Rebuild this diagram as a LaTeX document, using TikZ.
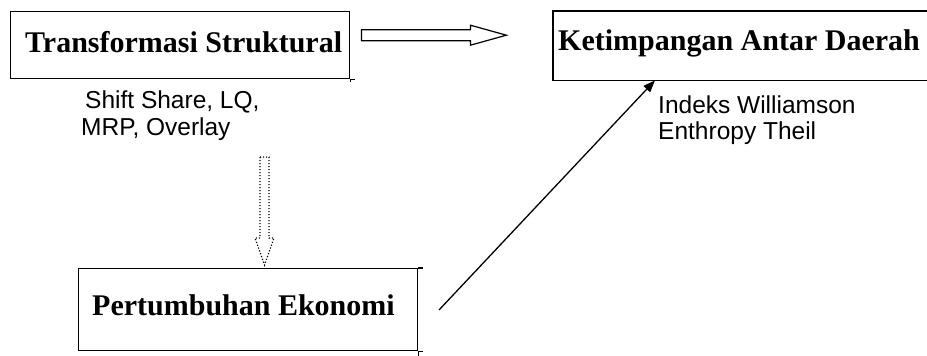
\documentclass[tikz,border=0pt]{standalone}
\usepackage{fontspec}
\setmainfont{Liberation Serif}
\newfontfamily\labelfont{Liberation Sans}
\usetikzlibrary{arrows.meta,calc}
\begin{document}
\begin{tikzpicture}[x=1pt,y=-1pt,
  frame/.style={line width=1.4pt},
  boxnode/.style={frame, draw, inner sep=0pt, anchor=north west},
  title/.style={font=\fontsize{30}{36}\selectfont\bfseries, inner sep=0pt, anchor=base west},
  note/.style={font=\labelfont\fontsize{24.5}{28}\selectfont, inner sep=0pt, anchor=base west},
  hollow/.style={line width=1.2pt, line join=miter},
  dotarrow/.style={line width=1.2pt, dash pattern=on 1.2pt off 1.8pt},
  link/.style={line width=1.3pt, -{Triangle[length=12pt,width=9pt]}}]
\useasboundingbox (0,0) rectangle (927,356);

% boxes
\node[boxnode, minimum width=339pt, minimum height=67pt] (ts) at (10,11) {};
\draw[frame] (ts.south east) -- ++(5,0);
\draw[frame] (ts.south east) -- ++(0,3);
\node[title] (tst) at (25,52) {Transformasi Struktural};

\node[boxnode, draw=none, minimum width=374pt, minimum height=68pt] (kd) at (553,11) {};
\draw[frame] (kd.north east) -- (kd.north west) -- (kd.south west) -- (kd.south east);
\node[title] (kdt) at (558,50) {Ketimpangan Antar Daerah};

\node[boxnode, minimum width=339pt, minimum height=82pt] (pe) at (78,268) {};
\draw[frame] (pe.north east) -- ++(5,0);
\draw[frame] (pe.south east) -- ++(5,0);
\draw[frame] (pe.south east) -- ++(0,6);
\node[title] (pet) at (92,315) {Pertumbuhan Ekonomi};

% method notes
\node[note] (sh1) at (85,108) {Shift Share, LQ,};
\node[note] (sh2) at (81,135) {MRP, Overlay};
\node[note] (iw1) at (658,113) {Indeks Williamson};
\node[note] (iw2) at (658,139) {Enthropy Theil};

% hollow arrow: structural transformation -> regional inequality
\coordinate (ha) at ($(ts.east)+(11,-10)$);
\draw[hollow] (ha) ++(0,-5.5) -- ++(109,0) -- ++(0,-4.5) -- ++(36,10)
  -- ++(-36,10) -- ++(0,-4.5) -- ++(-109,0) -- cycle;

% dotted hollow arrow: structural transformation -> economic growth
\coordinate (da) at (264.5,157);
\draw[dotarrow] (da) ++(-4.5,0) -- ++(9,0) -- ++(0,81) -- ++(5,0)
  -- ++(-9.5,27) -- ++(-9.5,-27) -- ++(5,0) -- cycle;

% economic growth -> regional inequality
\coordinate (ds) at (439,310);
\draw[link] (ds) -- ([xshift=102pt]kd.south west);
\end{tikzpicture}
\end{document}
